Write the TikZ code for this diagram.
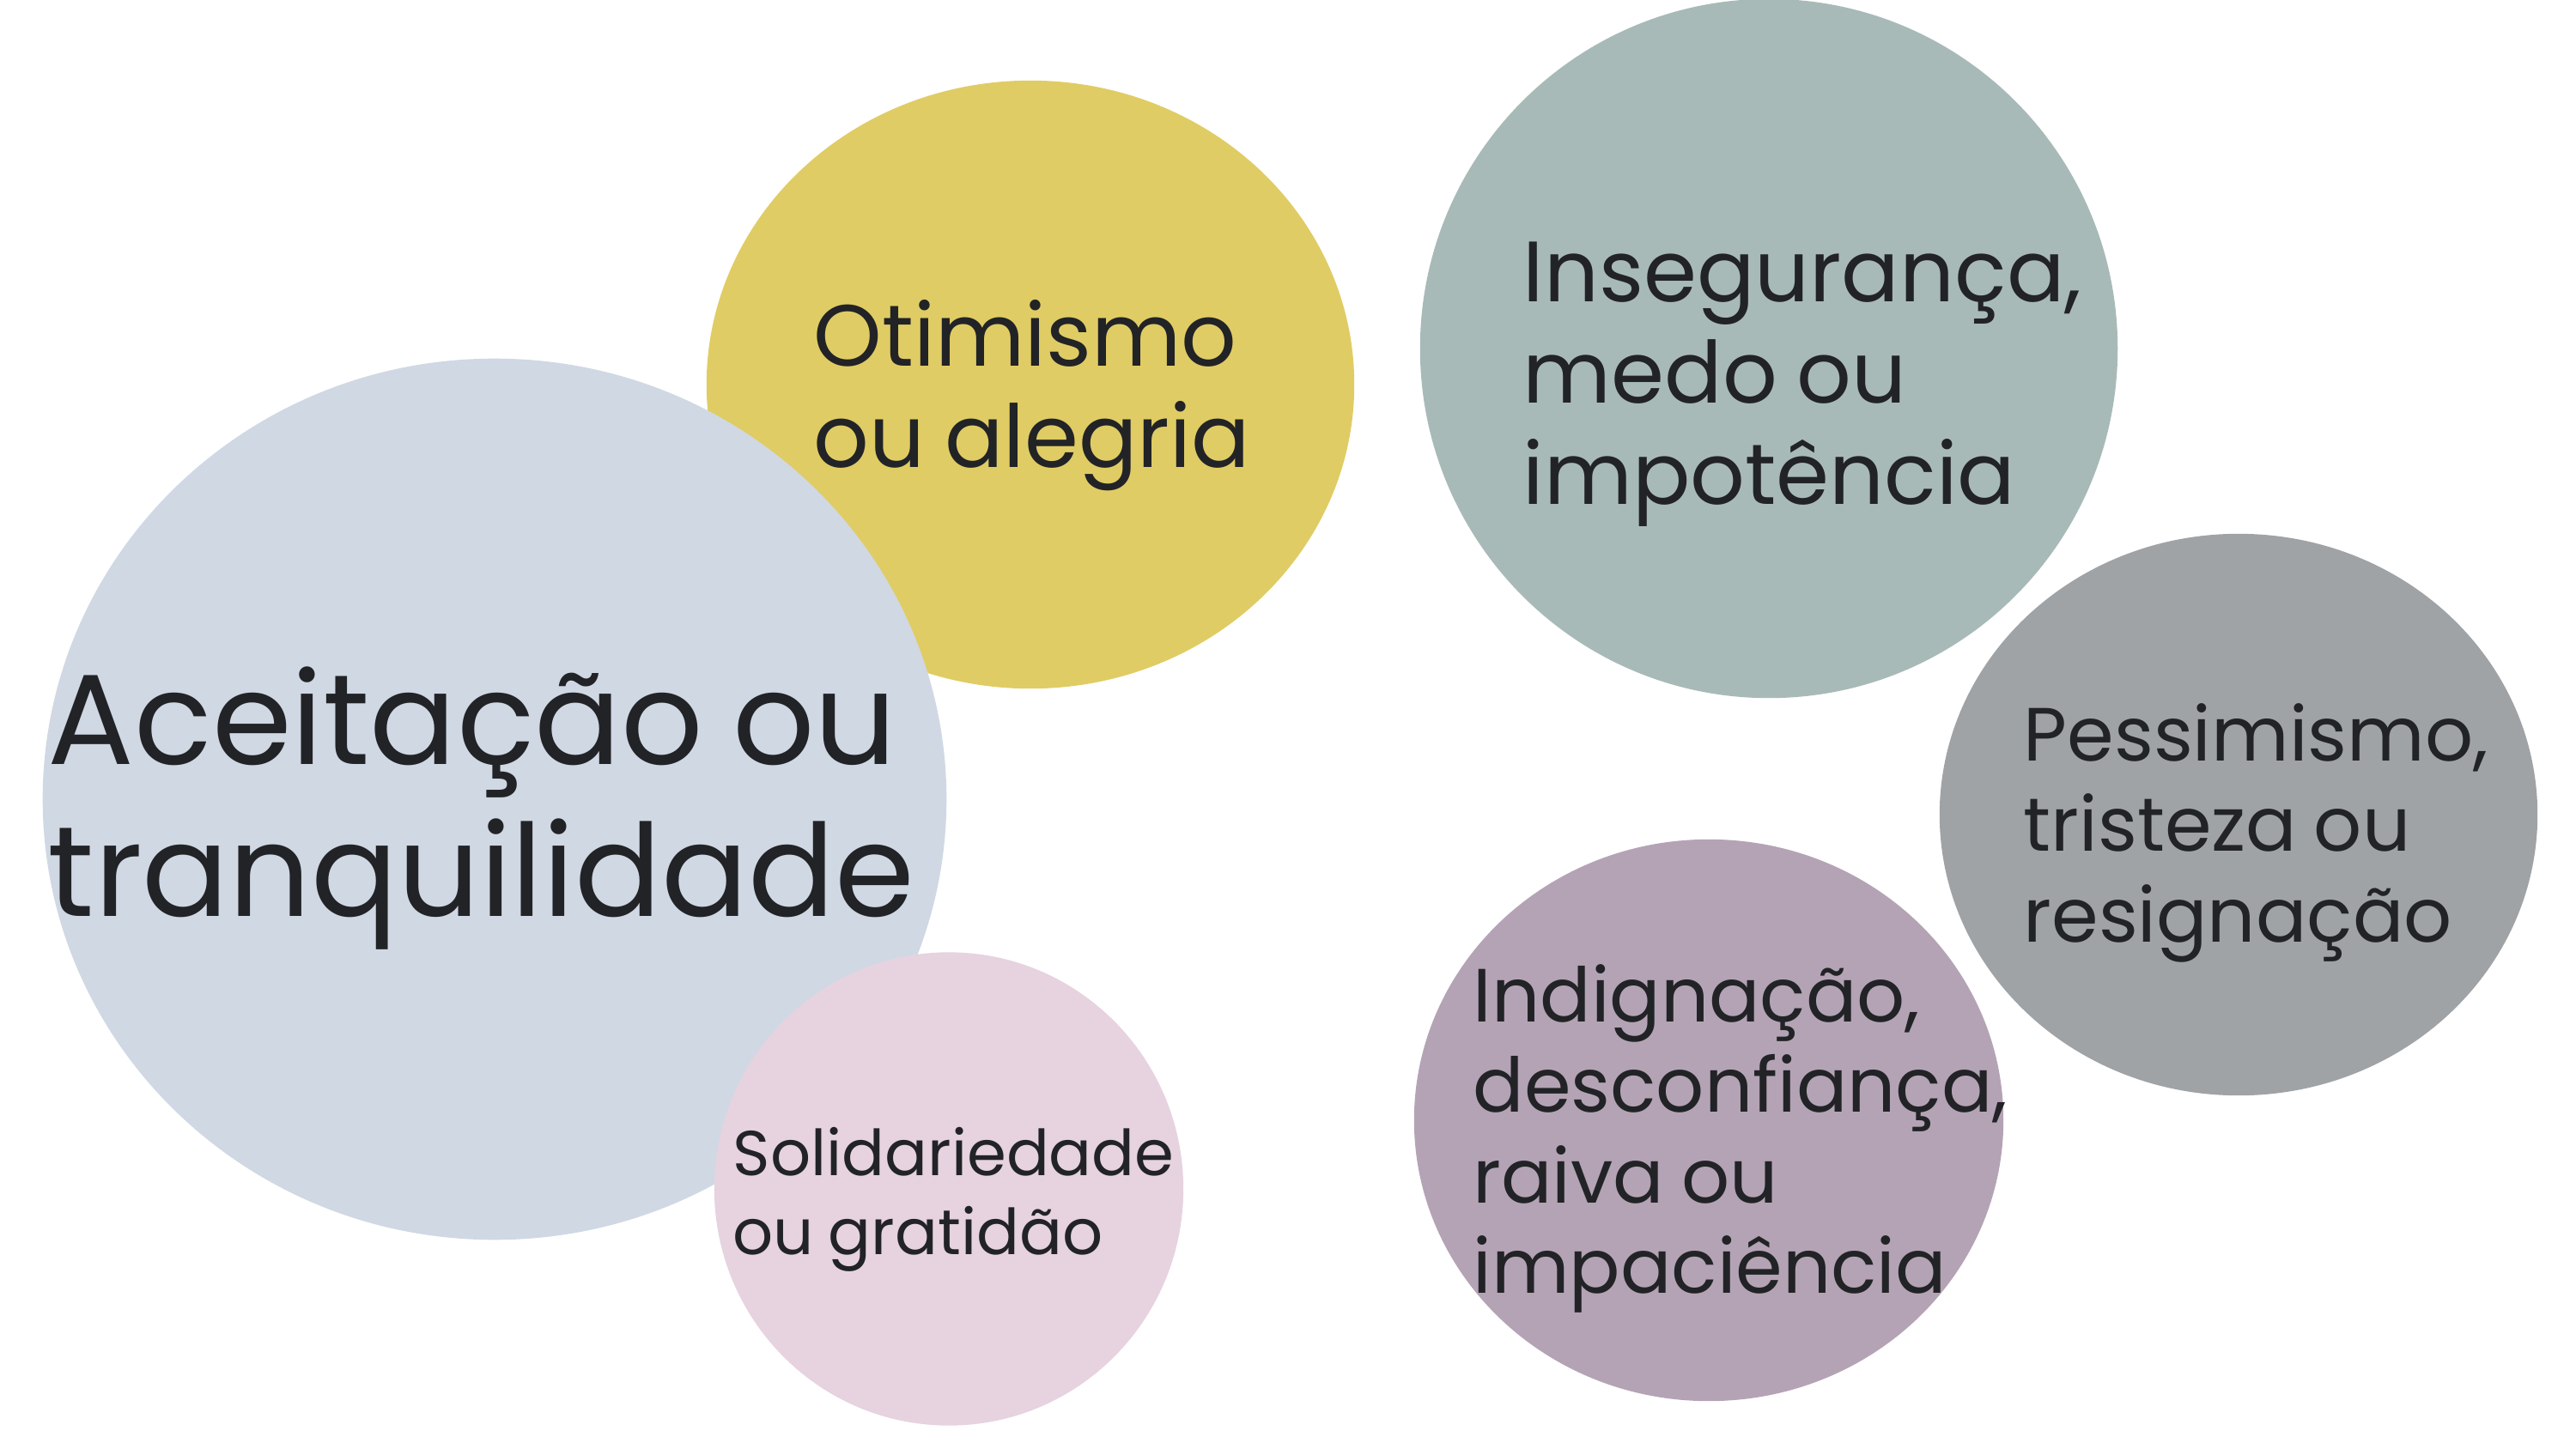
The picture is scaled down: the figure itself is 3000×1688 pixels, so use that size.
\documentclass[tikz,border=0pt]{standalone}
\usepackage{fontspec}
\setmainfont{Poppins}[WordSpace=0.85]
\usepackage{tikz}
\usetikzlibrary{shapes.geometric}

\definecolor{calmblue}{HTML}{D0D8E4}
\definecolor{joyyellow}{HTML}{E0CC64}
\definecolor{thankspink}{HTML}{E6D3DF}
\definecolor{fearsage}{HTML}{A8BAB8}
\definecolor{sadgrey}{HTML}{A0A3A6}
\definecolor{angermauve}{HTML}{B4A3B5}
\definecolor{ink}{HTML}{222326}

\newcommand{\bubbletext}[1]{\begin{tabular}[t]{@{}l@{}}#1\end{tabular}}

\begin{document}
\begin{tikzpicture}[x=0.01cm, y=-0.01cm,
  bubble/.style={ellipse, inner sep=0pt, outer sep=0pt},
  feeling/.style={anchor=base west, inner sep=0pt, text=ink}
]
  \useasboundingbox (0,0) rectangle (3000,1688);
  % bubbles, back to front
  \node[bubble, fill=joyyellow,  minimum width=7.54cm,  minimum height=7.08cm]  (joy)    at (1200,448)  {};
  \node[bubble, fill=calmblue,   minimum width=10.52cm, minimum height=10.26cm] (calm)   at (576,931)   {};
  \node[bubble, fill=thankspink, minimum width=5.46cm,  minimum height=5.51cm]  (thanks) at (1105,1385) {};
  \node[bubble, fill=fearsage,   minimum width=8.12cm,  minimum height=8.14cm]  (fear)   at (2060,406)  {};
  \node[bubble, fill=sadgrey,    minimum width=6.96cm,  minimum height=6.54cm]  (sad)    at (2607,949)  {};
  \node[bubble, fill=angermauve, minimum width=6.86cm,  minimum height=6.54cm]  (anger)  at (1990,1305) {};
  % texts
  \node[feeling, font=\fontsize{42.5}{50.6}\selectfont] (calmtxt)   at (55,890)    {\bubbletext{Aceitação ou\\tranquilidade}};
  \node[feeling, font=\fontsize{28.8}{33.6}\selectfont] (joytxt)    at (947,426)   {\bubbletext{Otimismo\\ou alegria}};
  \node[feeling, font=\fontsize{21}{26.2}\selectfont]   (thankstxt) at (853,1369)  {\bubbletext{Solidariedade\\ou gratidão}};
  \node[feeling, font=\fontsize{28.4}{33.6}\selectfont] (feartxt)   at (1773,351)  {\bubbletext{Insegurança,\\medo ou\\impotência}};
  \node[feeling, font=\fontsize{25}{30}\selectfont]     (sadtxt)    at (2356,886)  {\bubbletext{Pessimismo,\\tristeza ou\\resignação}};
  \node[feeling, font=\fontsize{25}{30}\selectfont]     (angertxt)  at (1715,1190) {\bubbletext{Indignação,\\desconfiança,\\raiva ou\\impaciência}};
\end{tikzpicture}
\end{document}
